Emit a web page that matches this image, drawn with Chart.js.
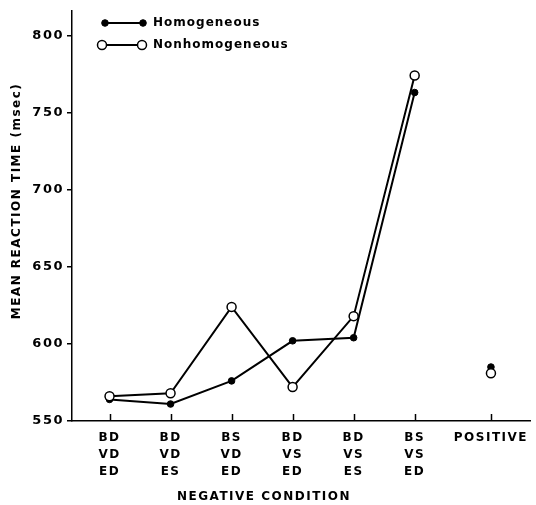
<!DOCTYPE html>
<html>
<head>
<meta charset="utf-8">
<script src="https://cdn.jsdelivr.net/npm/chart.js@4"></script>
<style>
    html, body { margin: 0; padding: 0; background: #fff; }
</style>
</head>
<body>
<canvas id="rt-chart" width="536" height="505"></canvas>
<script>
// negative conditions, one label line per attribute
var conditions = [
    ['BD', 'VD', 'ED'],
    ['BD', 'VD', 'ES'],
    ['BS', 'VD', 'ED'],
    ['BD', 'VS', 'ED'],
    ['BD', 'VS', 'ES'],
    ['BS', 'VS', 'ED']
];
var positiveLabel = 'POSITIVE';
var positiveX = 6.25;

var homogeneous = [564, 561, 576, 602, 604, 763];
var nonhomogeneous = [566, 568, 624, 572, 618, 774];
var homogeneousPositive = 585;
var nonhomogeneousPositive = 581;

var yTicks = [550, 600, 650, 700, 750, 800];

var FONT = 'DejaVu Sans';

function toPoints(values) {
    return values.map(function (v, i) {
        return {x: i, y: v};
    });
}

var openStyle = {
    borderColor: '#000',
    borderWidth: 2,
    pointRadius: 4.5,
    pointBackgroundColor: '#fff',
    pointBorderColor: '#000',
    pointBorderWidth: 1.5
};
var filledStyle = {
    borderColor: '#000',
    borderWidth: 2,
    pointRadius: 3.3,
    pointBackgroundColor: '#000',
    pointBorderColor: '#000',
    pointBorderWidth: 1
};

var decor = {
    id: 'decor',
    beforeDraw: function (chart) {
        chart.ctx.letterSpacing = '1.5px';
    },
    afterDraw: function (chart) {
        var ctx = chart.ctx;
        var x = chart.scales.x;
        var area = chart.chartArea;
        ctx.save();
        ctx.strokeStyle = '#000';
        ctx.fillStyle = '#000';
        ctx.lineWidth = 1.5;

        // x ticks point inward
        x.ticks.forEach(function (t) {
            var px = Math.round(x.getPixelForValue(t.value)) + 0.5;
            ctx.beginPath();
            ctx.moveTo(px, area.bottom);
            ctx.lineTo(px, area.bottom - 7);
            ctx.stroke();
        });

        ctx.font = 'bold 12px "' + FONT + '"';
        ctx.textBaseline = 'middle';
        ctx.textAlign = 'center';
        ctx.fillText('NEGATIVE CONDITION', 264, 497);

        ctx.save();
        ctx.translate(17, 201);
        ctx.rotate(-Math.PI / 2);
        ctx.fillText('MEAN REACTION TIME (msec)', 0, 0);
        ctx.restore();

        // legend in the top left corner
        var rows = [
            {ds: chart.data.datasets[1], y: 23, x0: 105, x1: 143},
            {ds: chart.data.datasets[0], y: 45, x0: 102, x1: 142}
        ];
        ctx.textAlign = 'left';
        ctx.letterSpacing = '1px';
        rows.forEach(function (r) {
            ctx.lineWidth = 2;
            ctx.beginPath();
            ctx.moveTo(r.x0, r.y);
            ctx.lineTo(r.x1, r.y);
            ctx.stroke();
            [r.x0, r.x1].forEach(function (cx) {
                ctx.beginPath();
                ctx.arc(cx, r.y, r.ds.pointRadius, 0, Math.PI * 2);
                ctx.fillStyle = r.ds.pointBackgroundColor;
                ctx.fill();
                ctx.lineWidth = r.ds.pointBorderWidth;
                ctx.stroke();
            });
            ctx.fillStyle = '#000';
            ctx.fillText(r.ds.label, 153, r.y);
        });
        ctx.restore();
    }
};

new Chart(document.getElementById('rt-chart'), {
    type: 'line',
    data: {
        datasets: [
            Object.assign({label: 'Nonhomogeneous', data: toPoints(nonhomogeneous), order: 0}, openStyle),
            Object.assign({label: 'Homogeneous', data: toPoints(homogeneous), order: 1}, filledStyle),
            Object.assign({label: 'Nonhomogeneous positive', data: [{x: positiveX, y: nonhomogeneousPositive}], showLine: false, order: 0}, openStyle),
            Object.assign({label: 'Homogeneous positive', data: [{x: positiveX, y: homogeneousPositive}], showLine: false, order: 1}, filledStyle)
        ]
    },
    plugins: [decor],
    options: {
        responsive: false,
        animation: false,
        layout: {padding: {top: 8, left: 0, right: 0, bottom: 0}},
        plugins: {
            legend: {display: false},
            tooltip: {enabled: false}
        },
        scales: {
            x: {
                type: 'linear',
                min: -0.615,
                max: 6.89,
                afterBuildTicks: function (scale) {
                    var ticks = conditions.map(function (c, i) { return {value: i}; });
                    ticks.push({value: positiveX});
                    scale.ticks = ticks;
                },
                afterFit: function (scale) {
                    scale.height = 84;
                },
                grid: {display: false, drawTicks: false},
                border: {color: '#000', width: 1.5},
                ticks: {
                    autoSkip: false,
                    maxRotation: 0,
                    padding: 8,
                    color: '#000',
                    font: {family: FONT, size: 12, weight: 'bold', lineHeight: 1.42},
                    callback: function (value, index) {
                        return index < conditions.length ? conditions[index] : positiveLabel;
                    }
                }
            },
            y: {
                min: 550,
                max: 816,
                afterBuildTicks: function (scale) {
                    scale.ticks = yTicks.map(function (v) { return {value: v}; });
                },
                afterFit: function (scale) {
                    scale.width = 72;
                },
                grid: {drawOnChartArea: false, tickLength: 5, color: '#000', lineWidth: 1.5},
                border: {color: '#000', width: 1.5},
                ticks: {
                    padding: 3,
                    color: '#000',
                    font: {family: FONT, size: 13, weight: 'bold'}
                }
            }
        }
    }
});
</script>
</body>
</html>
